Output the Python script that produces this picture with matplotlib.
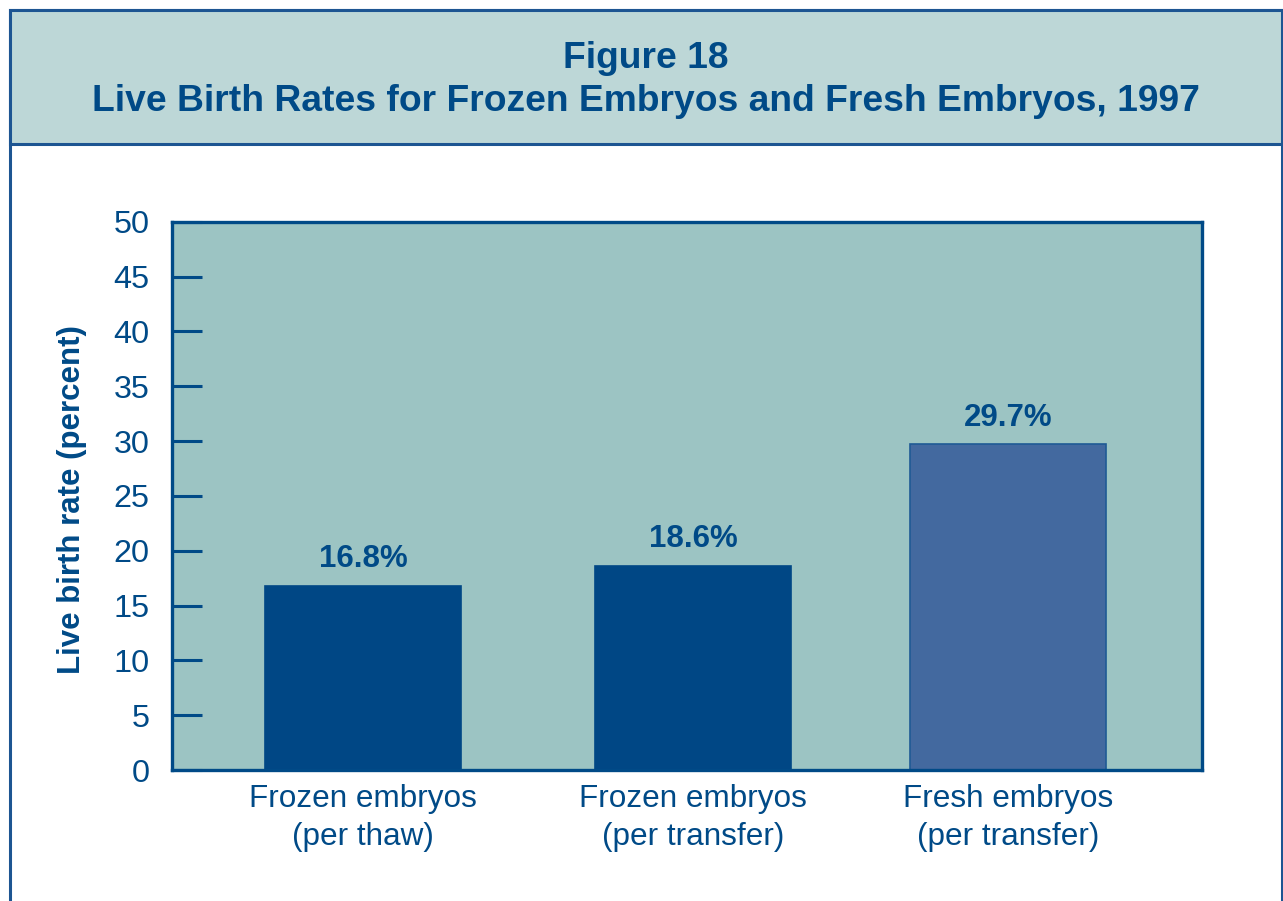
import matplotlib.pyplot as plt
from matplotlib.patches import Rectangle

categories = ["Frozen embryos\n(per thaw)", "Frozen embryos\n(per transfer)", "Fresh embryos\n(per transfer)"]
rates = [16.8, 18.6, 29.7]
rate_labels = ["16.8%", "18.6%", "29.7%"]
yticks = [0, 5, 10, 15, 20, 25, 30, 35, 40, 45, 50]

navy = "#004a87"
bar_colors = ["#004785", "#004785", "#43699f"]
bar_edges = ["#004785", "#004785", "#1f5a95"]

plt.rcParams['font.family'] = ['Liberation Sans', 'DejaVu Sans']

fig = plt.figure(figsize=(12.83, 9.01), dpi=100)
W, H = 1283, 901

# frame and header band (drawn behind the axes)
def px_rect(x0, y0, x1, y1, **kw):
    r = Rectangle((x0 / W, 1 - y1 / H), (x1 - x0) / W, (y1 - y0) / H,
                  transform=fig.transFigure, zorder=-10, **kw)
    fig.patches.append(r)

px_rect(10, 10, 1282, 960, facecolor="white", edgecolor="#1d5592", linewidth=2.2)
px_rect(10, 10, 1282, 144, facecolor="#bdd7d7", edgecolor="#1d5592", linewidth=2.2)

fig.text(646 / W, 1 - 68 / H, "Figure 18", ha="center", va="baseline",
         fontsize=26.8, fontweight="bold", color=navy)
fig.text(646 / W, 1 - 111 / H, "Live Birth Rates for Frozen Embryos and Fresh Embryos, 1997",
         ha="center", va="baseline", fontsize=26.8, fontweight="bold", color=navy)

ax = fig.add_axes([171.7 / W, 131 / H, 1030 / W, 548.3 / H])
ax.set_facecolor("#9cc4c3")

xpos = [0, 1, 1.955]
ax.bar(xpos, rates, width=0.594, color=bar_colors, edgecolor=bar_edges, linewidth=1.2, zorder=2)
for x, v, lab in zip(xpos, rates, rate_labels):
    ax.annotate(lab, (x, v), xytext=(0, 13.5), textcoords="offset points",
                ha="center", va="baseline", fontsize=22.5, fontweight="bold", color=navy)

ax.set_xlim(-0.581, 2.541)
ax.set_ylim(0, 50)
ax.set_yticks(yticks)
ax.tick_params(axis="y", direction="in", length=21.5, width=2.2, color=navy,
               labelsize=23.3, labelcolor=navy, pad=16)
ax.set_xticks(xpos)
ax.set_xticklabels(categories, linespacing=1.35)
ax.tick_params(axis="x", length=0, labelsize=22.7, labelcolor=navy, pad=10)
for s in ax.spines.values():
    s.set_color(navy)
    s.set_linewidth(2.4)
    s.set_zorder(3)

fig.text(72 / W, 1 - 500 / H, "Live birth rate (percent)", rotation=90,
         ha="center", va="center", fontsize=22.5, fontweight="bold", color=navy)

fig.savefig("out.png", dpi=100)
